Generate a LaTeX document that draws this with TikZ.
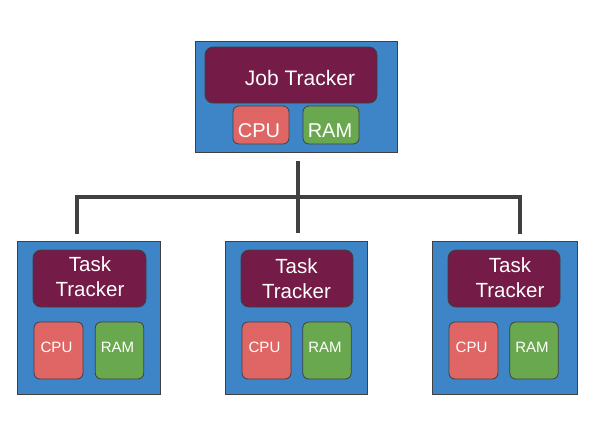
\documentclass[tikz,border=0pt]{standalone}
\usepackage{fontspec}
\setmainfont{Liberation Sans}
\definecolor{boxblue}{HTML}{3D85C6}
\definecolor{trackpurple}{HTML}{741B47}
\definecolor{cpured}{HTML}{E06666}
\definecolor{ramgreen}{HTML}{6AA84F}
\definecolor{edgegray}{HTML}{404040}
\tikzset{
  host/.style={draw=edgegray, line width=1pt, fill=boxblue, rectangle, inner sep=0pt},
  tracker/.style={draw=edgegray, line width=0.8pt, fill=trackpurple, rounded corners=8pt, inner sep=0pt, minimum width=112pt, minimum height=57pt},
  cpubox/.style={draw=edgegray, line width=0.8pt, fill=cpured, rounded corners=6pt, inner sep=0pt},
  rambox/.style={draw=edgegray, line width=0.8pt, fill=ramgreen, rounded corners=6pt, inner sep=0pt},
  lbl/.style={text=white, inner sep=0pt},
  conn/.style={draw=edgegray, line width=4pt},
}
\begin{document}
\begin{tikzpicture}[x=1pt,y=-1pt]
\useasboundingbox (0,0) rectangle (594,440);
% top host
\node[host, minimum width=202pt, minimum height=111pt] (job) at (296,96.5) {};
\node[tracker, minimum width=172pt, minimum height=56pt] (jt) at (291,75) {};
\node[lbl, font=\fontsize{21}{25}\selectfont] (jtl) at (300,78) {Job Tracker};
\node[cpubox, minimum width=56pt, minimum height=38pt] (jcpu) at (261,125) {};
\node[lbl, font=\fontsize{20}{24}\selectfont] (jcpul) at (259,131) {CPU};
\node[rambox, minimum width=56pt, minimum height=38pt] (jram) at (331,125) {};
\node[lbl, font=\fontsize{20}{24}\selectfont] (jraml) at (330,131) {RAM};
% task hosts
\node[host, minimum width=143pt, minimum height=152.5pt] (t1) at (89,317.75) {};
\node[host, minimum width=142pt, minimum height=152.5pt] (t2) at (296.5,317.75) {};
\node[host, minimum width=144.5pt, minimum height=152.5pt] (t3) at (504.75,317.75) {};
% trackers
\node[tracker, minimum width=113pt] (tt1) at (89.5,278.5) {};
\node[tracker] (tt2) at (297,278.5) {};
\node[tracker] (tt3) at (504,278.5) {};
\node[lbl, align=center, font=\fontsize{20.5}{25}\selectfont] (tt1l) at (90,276.5) {Task\\Tracker};
\node[lbl, align=center, font=\fontsize{20.5}{25}\selectfont] (tt2l) at (296.5,278.5) {Task\\Tracker};
\node[lbl, align=center, font=\fontsize{20.5}{25}\selectfont] (tt3l) at (510,277.5) {Task\\Tracker};
% cpu / ram
\foreach \i/\cx/\rx in {1/58.5/119.5, 2/266.5/327, 3/473.5/534}{
  \node[cpubox, minimum width=49pt, minimum height=57pt] (c\i) at (\cx,350.5) {};
  \node[lbl, font=\fontsize{15}{18}\selectfont] (c\i l) at ([xshift=-2pt,yshift=3.5pt]c\i.center) {CPU};
  \node[rambox, minimum width=48.5pt, minimum height=57pt] (r\i) at (\rx,350.5) {};
  \node[lbl, font=\fontsize{15}{18}\selectfont] (r\i l) at ([xshift=-2pt,yshift=3.5pt]r\i.center) {RAM};
}
% connectors
\coordinate (hub) at (298,197);
\draw[conn] ([xshift=2pt,yshift=-8pt]job.south) -- ([xshift=1.5pt,yshift=8pt]t2.north);
\draw[conn] ([xshift=-12pt,yshift=7.5pt]t1.north) |- (hub) -| ([xshift=15.25pt,yshift=7.5pt]t3.north);
\end{tikzpicture}
\end{document}
